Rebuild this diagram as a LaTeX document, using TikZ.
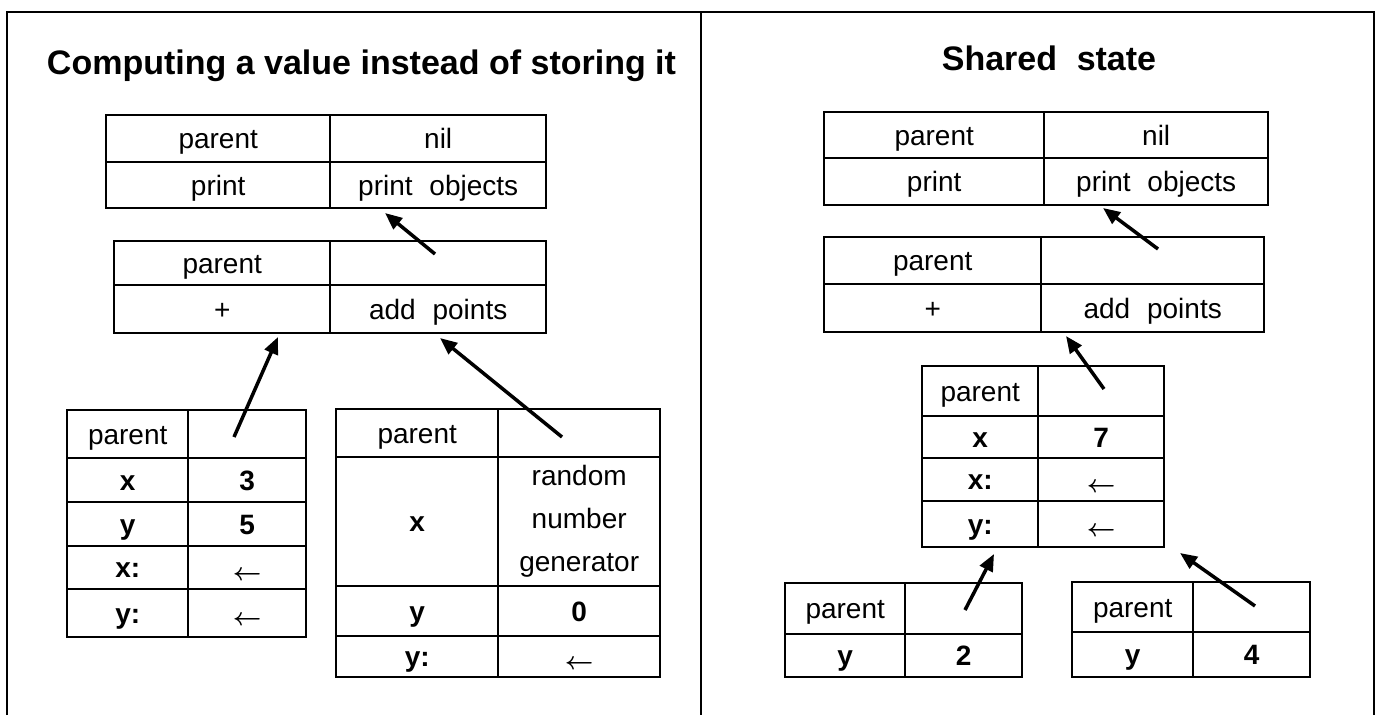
\documentclass[tikz,border=0pt]{standalone}
\usepackage{fontspec}
\setmainfont{Liberation Sans}
\usetikzlibrary{arrows.meta}
\begin{document}
\begin{tikzpicture}[x=1pt,y=-1pt,
  cellbase/.style={draw,line width=2.4pt,rectangle,inner sep=0pt,anchor=north west,align=center,font=\fontsize{28}{43}\selectfont},
  cell/.style={cellbase,text height=24pt,text depth=4pt},
  bcell/.style={cell,font=\fontsize{28}{43}\selectfont\bfseries},
  frameline/.style={line width=2pt},
  ptr/.style={line width=3.5pt,-{Triangle[length=17pt,width=14pt]}},
  title/.style={font=\fontsize{34}{40}\selectfont\bfseries,anchor=base,inner sep=0pt}]
\newcommand{\larr}{\raisebox{-2.5pt}{\boldmath$\leftarrow$}}
\useasboundingbox (0,0) rectangle (1380,715);
% frame
\draw[frameline] (7,715) -- (7,12) -- (1374,12) -- (1374,715);
\draw[frameline] (701,12) -- (701,715);
% titles
\node[title] (ttl) at (361.5,74) {Computing a value instead of storing it};
\node[title] (ttr) at (1049,70) {Shared\hspace{0.3em} state};

% ===== LEFT PANEL =====
% T1
\node[cell,minimum width=224pt,minimum height=47pt] (l1a) at (105,114) {parent};
\node[cell,minimum width=216pt,minimum height=47pt] (l1b) at (329,114) {nil};
\node[cell,minimum width=224pt,minimum height=46pt] (l1c) at (105,161) {print};
\node[cell,minimum width=216pt,minimum height=46pt] (l1d) at (329,161) {print\hspace{0.6em}objects};
% T2
\node[cell,minimum width=216pt,minimum height=44pt] (l2a) at (113,240) {parent};
\node[cell,minimum width=216pt,minimum height=44pt] (l2b) at (329,240) {};
\node[cell,minimum width=216pt,minimum height=48pt] (l2c) at (113,284) {+};
\node[cell,minimum width=216pt,minimum height=48pt] (l2d) at (329,284) {add\hspace{0.6em}points};
% T3
\node[cell,minimum width=121pt,minimum height=48pt] (l3a) at (66,409) {parent};
\node[cell,minimum width=118pt,minimum height=48pt] (l3b) at (187,409) {};
\node[bcell,minimum width=121pt,minimum height=44pt] (l3c) at (66,457) {x};
\node[bcell,minimum width=118pt,minimum height=44pt] (l3d) at (187,457) {3};
\node[bcell,minimum width=121pt,minimum height=44pt] (l3e) at (66,501) {y};
\node[bcell,minimum width=118pt,minimum height=44pt] (l3f) at (187,501) {5};
\node[bcell,minimum width=121pt,minimum height=43pt] (l3g) at (66,545) {x:};
\node[cell,minimum width=118pt,minimum height=43pt] (l3h) at (187,545) {\larr};
\node[bcell,minimum width=121pt,minimum height=48pt] (l3i) at (66,588) {y:};
\node[cell,minimum width=118pt,minimum height=48pt] (l3j) at (187,588) {\larr};
% T4
\node[cell,minimum width=162pt,minimum height=48pt] (l4a) at (335,408) {parent};
\node[cell,minimum width=162pt,minimum height=48pt] (l4b) at (497,408) {};
\node[bcell,minimum width=162pt,minimum height=129pt] (l4c) at (335,456) {x};
\node[cellbase,minimum width=162pt,minimum height=129pt] (l4d) at (497,456) {random\\number\\generator};
\node[bcell,minimum width=162pt,minimum height=50pt] (l4e) at (335,585) {y};
\node[bcell,minimum width=162pt,minimum height=50pt] (l4f) at (497,585) {0};
\node[bcell,minimum width=162pt,minimum height=41pt] (l4g) at (335,635) {y:};
\node[cell,minimum width=162pt,minimum height=41pt] (l4h) at (497,635) {\larr};
% left arrows
\coordinate (a1s) at (435,254); \coordinate (a1e) at (385,213);
\coordinate (a2s) at (234,437); \coordinate (a2e) at (278,337);
\coordinate (a3s) at (562,437); \coordinate (a3e) at (440,338);
\draw[ptr] (a1s) -- (a1e);
\draw[ptr] (a2s) -- (a2e);
\draw[ptr] (a3s) -- (a3e);

% ===== RIGHT PANEL =====
% R1
\node[cell,minimum width=220pt,minimum height=46pt] (r1a) at (823,111) {parent};
\node[cell,minimum width=224pt,minimum height=46pt] (r1b) at (1043,111) {nil};
\node[cell,minimum width=220pt,minimum height=47pt] (r1c) at (823,157) {print};
\node[cell,minimum width=224pt,minimum height=47pt] (r1d) at (1043,157) {print\hspace{0.6em}objects};
% R2
\node[cell,minimum width=217pt,minimum height=47pt] (r2a) at (823,236) {parent};
\node[cell,minimum width=223pt,minimum height=47pt] (r2b) at (1040,236) {};
\node[cell,minimum width=217pt,minimum height=48pt] (r2c) at (823,283) {+};
\node[cell,minimum width=223pt,minimum height=48pt] (r2d) at (1040,283) {add\hspace{0.6em}points};
% M
\node[cell,minimum width=116pt,minimum height=50pt] (m1a) at (921,365) {parent};
\node[cell,minimum width=126pt,minimum height=50pt] (m1b) at (1037,365) {};
\node[bcell,minimum width=116pt,minimum height=42pt] (m1c) at (921,415) {x};
\node[bcell,minimum width=126pt,minimum height=42pt] (m1d) at (1037,415) {7};
\node[bcell,minimum width=116pt,minimum height=43pt] (m1e) at (921,457) {x:};
\node[cell,minimum width=126pt,minimum height=43pt] (m1f) at (1037,457) {\larr};
\node[bcell,minimum width=116pt,minimum height=46pt] (m1g) at (921,500) {y:};
\node[cell,minimum width=126pt,minimum height=46pt] (m1h) at (1037,500) {\larr};
% BL
\node[cell,minimum width=120pt,minimum height=51pt] (b1a) at (784,582) {parent};
\node[cell,minimum width=117pt,minimum height=51pt] (b1b) at (904,582) {};
\node[bcell,minimum width=120pt,minimum height=43pt] (b1c) at (784,633) {y};
\node[bcell,minimum width=117pt,minimum height=43pt] (b1d) at (904,633) {2};
% BR
\node[cell,minimum width=121pt,minimum height=50pt] (b2a) at (1071,581) {parent};
\node[cell,minimum width=117pt,minimum height=50pt] (b2b) at (1192,581) {};
\node[bcell,minimum width=121pt,minimum height=45pt] (b2c) at (1071,631) {y};
\node[bcell,minimum width=117pt,minimum height=45pt] (b2d) at (1192,631) {4};
% right arrows
\coordinate (r1s) at (1158,249); \coordinate (r1e) at (1103,208);
\coordinate (r2s) at (1104,389); \coordinate (r2e) at (1066,336);
\coordinate (r3s) at (965,610);  \coordinate (r3e) at (994,554);
\coordinate (r4s) at (1255,606); \coordinate (r4e) at (1180,553);
\draw[ptr] (r1s) -- (r1e);
\draw[ptr] (r2s) -- (r2e);
\draw[ptr] (r3s) -- (r3e);
\draw[ptr] (r4s) -- (r4e);
\end{tikzpicture}
\end{document}
